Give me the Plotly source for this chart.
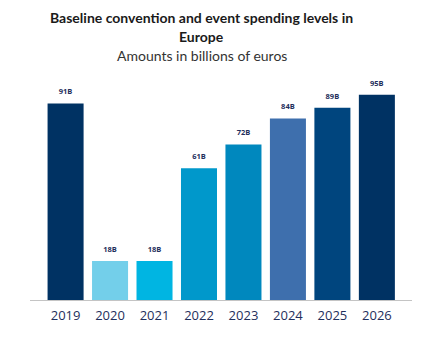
import plotly.graph_objects as go

# Spending figures (billions of euros)
years = ["2019", "2020", "2021", "2022", "2023", "2024", "2025", "2026"]
spending = [91, 18, 18, 61, 72, 84, 89, 95]
labels = ["91B", "18B", "18B", "61B", "72B", "84B", "89B", "95B"]
bar_colors = ["#003263", "#73cfea", "#00b5e2", "#0098cb", "#0088be",
              "#3e6fad", "#00457e", "#003263"]

fig = go.Figure()
fig.add_trace(go.Bar(
    x=years, y=spending,
    marker=dict(color=bar_colors, line=dict(width=0)),
    hoverinfo="skip",
))

# Value labels sitting above each bar (invisible marker pushes text up)
fig.add_trace(go.Scatter(
    x=years, y=spending, mode="markers+text",
    text=[f"<b>{t}</b>" for t in labels], textposition="top center",
    marker=dict(size=10, opacity=0),
    textfont=dict(family="Open Sans, sans-serif", size=7.5, color="#1f2f5c"),
    hoverinfo="skip", cliponaxis=False,
))

# Title block
fig.add_annotation(
    xref="paper", yref="paper", x=0.45, y=1.0, yshift=67,
    xanchor="center", yanchor="middle", showarrow=False,
    text="<b>Baseline convention and event spending levels in</b>",
    font=dict(family="Lato, sans-serif", size=14, color="#1a1a1a"),
)
fig.add_annotation(
    xref="paper", yref="paper", x=0.45, y=1.0, yshift=48,
    xanchor="center", yanchor="middle", showarrow=False,
    text="<b>Europe</b>",
    font=dict(family="Lato, sans-serif", size=14, color="#1a1a1a"),
)
fig.add_annotation(
    xref="paper", yref="paper", x=0.45, y=1.0, yshift=29,
    xanchor="center", yanchor="middle", showarrow=False,
    text="Amounts in billions of euros",
    font=dict(family="Lato, sans-serif", size=14, color="#333333"),
)

fig.update_layout(
    width=435, height=347,
    margin=dict(l=30, r=23, t=84, b=47),
    paper_bgcolor="white", plot_bgcolor="white",
    bargap=0.19, showlegend=False,
    xaxis=dict(
        type="category", range=[-0.8, 7.79],
        showline=True, linecolor="#c4c4c4", linewidth=1,
        ticks="outside", ticklen=3, tickcolor="rgba(0,0,0,0)", showgrid=False,
        tickfont=dict(family="Open Sans, sans-serif", size=13, color="#1f2f5c"),
    ),
    yaxis=dict(range=[0, 100], showticklabels=False, showline=False,
               zeroline=False, showgrid=False, ticks=""),
)

fig.write_html("out.html")
